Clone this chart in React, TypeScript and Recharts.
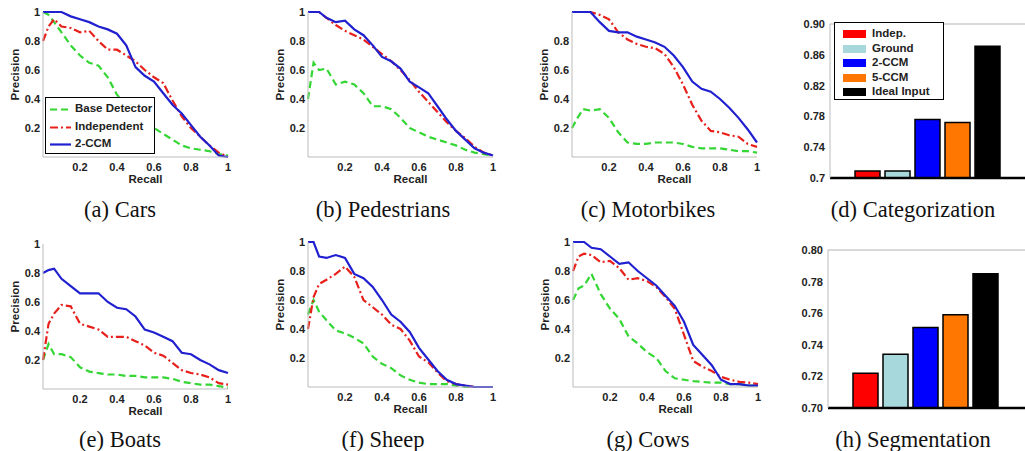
import { LineChart, Line, BarChart, Bar, Cell, XAxis, YAxis, ReferenceLine } from 'recharts';

// recall grid shared by all precision/recall panels
const recall = [0, 0.03, 0.06, 0.1, 0.15, 0.2, 0.25, 0.3, 0.35, 0.4, 0.45, 0.5, 0.55, 0.6, 0.65, 0.7, 0.75, 0.8, 0.85, 0.9, 0.95, 1];

const carsBase = [1, 0.98, 0.93, 0.86, 0.77, 0.7, 0.65, 0.63, 0.55, 0.43, 0.35, 0.3, 0.25, 0.2, 0.16, 0.12, 0.08, 0.06, 0.05, 0.04, 0.02, 0.01];
const carsIndep = [0.8, 0.9, 0.95, 0.9, 0.89, 0.86, 0.87, 0.8, 0.74, 0.74, 0.7, 0.66, 0.6, 0.55, 0.51, 0.39, 0.28, 0.2, 0.14, 0.08, 0.03, 0];
const carsCcm = [1, 1, 1, 1, 0.97, 0.95, 0.93, 0.9, 0.88, 0.85, 0.77, 0.62, 0.56, 0.52, 0.44, 0.36, 0.3, 0.22, 0.14, 0.08, 0.01, 0];

const pedBase = [0.4, 0.65, 0.6, 0.61, 0.5, 0.52, 0.5, 0.44, 0.35, 0.35, 0.33, 0.27, 0.2, 0.17, 0.14, 0.12, 0.1, 0.08, 0.05, 0.03, 0.02, 0.01];
const pedIndep = [1, 1, 1, 0.96, 0.91, 0.87, 0.84, 0.81, 0.76, 0.71, 0.66, 0.6, 0.53, 0.45, 0.38, 0.31, 0.24, 0.18, 0.13, 0.07, 0.03, 0.01];
const pedCcm = [1, 1, 1, 0.96, 0.93, 0.94, 0.88, 0.84, 0.77, 0.69, 0.66, 0.61, 0.52, 0.48, 0.44, 0.35, 0.26, 0.18, 0.12, 0.06, 0.03, 0.01];

const motoBase = [0.2, 0.27, 0.33, 0.32, 0.33, 0.27, 0.17, 0.1, 0.09, 0.09, 0.1, 0.1, 0.1, 0.09, 0.07, 0.06, 0.06, 0.06, 0.05, 0.04, 0.04, 0.03];
const motoIndep = [1, 1, 1, 1, 0.98, 0.95, 0.86, 0.81, 0.78, 0.76, 0.75, 0.71, 0.62, 0.5, 0.36, 0.25, 0.18, 0.17, 0.15, 0.14, 0.09, 0.07];
const motoCcm = [1, 1, 1, 1, 0.93, 0.87, 0.86, 0.86, 0.83, 0.81, 0.79, 0.76, 0.7, 0.62, 0.52, 0.47, 0.45, 0.4, 0.34, 0.27, 0.19, 0.1];

const boatBase = [0.2, 0.31, 0.24, 0.24, 0.22, 0.15, 0.12, 0.11, 0.1, 0.1, 0.09, 0.09, 0.08, 0.08, 0.08, 0.07, 0.05, 0.04, 0.03, 0.03, 0.02, 0.01];
const boatIndep = [0.2, 0.45, 0.52, 0.58, 0.57, 0.45, 0.43, 0.41, 0.36, 0.36, 0.36, 0.33, 0.3, 0.25, 0.23, 0.18, 0.13, 0.11, 0.1, 0.08, 0.04, 0.03];
const boatCcm = [0.8, 0.82, 0.83, 0.76, 0.71, 0.66, 0.66, 0.66, 0.6, 0.56, 0.55, 0.5, 0.41, 0.39, 0.36, 0.33, 0.25, 0.24, 0.2, 0.17, 0.13, 0.11];

const sheepBase = [0.5, 0.6, 0.52, 0.46, 0.39, 0.37, 0.34, 0.3, 0.21, 0.16, 0.13, 0.08, 0.05, 0.03, 0.02, 0.02, 0.02, 0.01, 0, 0, 0, 0];
const sheepIndep = [0.4, 0.62, 0.71, 0.74, 0.78, 0.83, 0.76, 0.6, 0.55, 0.5, 0.43, 0.4, 0.32, 0.21, 0.17, 0.1, 0.04, 0.02, 0.01, 0, 0, 0];
const sheepCcm = [1, 1, 0.9, 0.89, 0.91, 0.89, 0.78, 0.75, 0.69, 0.6, 0.5, 0.45, 0.38, 0.27, 0.19, 0.11, 0.05, 0.02, 0.01, 0, 0, 0];

const cowBase = [0.6, 0.68, 0.7, 0.78, 0.64, 0.54, 0.47, 0.35, 0.3, 0.24, 0.2, 0.11, 0.06, 0.05, 0.04, 0.035, 0.03, 0.03, 0.02, 0.02, 0.01, 0.01];
const cowIndep = [0.8, 0.9, 0.92, 0.91, 0.86, 0.87, 0.82, 0.74, 0.75, 0.73, 0.69, 0.62, 0.54, 0.36, 0.18, 0.14, 0.11, 0.07, 0.05, 0.035, 0.03, 0.02];
const cowCcm = [1, 1, 1, 0.96, 0.95, 0.9, 0.85, 0.86, 0.8, 0.75, 0.7, 0.63, 0.56, 0.45, 0.29, 0.22, 0.15, 0.05, 0.02, 0.02, 0.01, 0.01];

const seriesKeys = ['base', 'indep', 'ccm'];
const seriesNames = ['Base Detector', 'Independent', '2-CCM'];
const seriesColors = ['#33d633', '#e8201c', '#2020d0'];
const seriesDash = ['7 4', '8 3 2 3', undefined];

const prTicks = [0.2, 0.4, 0.6, 0.8, 1];
const prTicksNoTop = [0.2, 0.4, 0.6, 0.8];

// bar panels
const methods = ['Indep.', 'Ground', '2-CCM', '5-CCM', 'Ideal Input'];
const methodColors = ['#ff0000', '#a6d8dc', '#0000ff', '#ff7700', '#000000'];
const categorization = [0.709, 0.709, 0.776, 0.772, 0.871];
const segmentation = [0.722, 0.734, 0.751, 0.759, 0.785];
const catTicks = [0.7, 0.74, 0.78, 0.82, 0.86, 0.9];
const catTickLabels = ['0.7', '0.74', '0.78', '0.82', '0.86', '0.90'];
const segTicks = [0.7, 0.72, 0.74, 0.76, 0.78, 0.8];
const segTickLabels = ['0.70', '0.72', '0.74', '0.76', '0.78', '0.80'];

const captions = ['(a) Cars', '(b) Pedestrians', '(c) Motorbikes', '(d) Categorization', '(e) Boats', '(f) Sheep', '(g) Cows', '(h) Segmentation'];

const sans = '"Liberation Sans", Arial, sans-serif';
const tickStyle = { fontFamily: sans, fontSize: 11, fontWeight: 700, fill: '#222' };
const labelStyle = { fontFamily: sans, fontSize: 11.5, fontWeight: 700, fill: '#222' };

function toRows(base: number[], indep: number[], ccm: number[]) {
  return recall.map((r, i) => ({ r, base: base[i], indep: indep[i], ccm: ccm[i] }));
}

const PrecisionLabel = (props: any) => {
  const vb = props.viewBox || { x: 0, y: 12, width: 43, height: 145 };
  const x = vb.x + vb.width - 28;
  const y = vb.y + vb.height / 2 - 10;
  return (
    <text x={x} y={y} transform={`rotate(-90 ${x} ${y})`} textAnchor="middle" dominantBaseline="central" style={labelStyle}>
      Precision
    </text>
  );
};

const RecallLabel = (props: any) => {
  const vb = props.viewBox || { x: 43, y: 157, width: 185, height: 38 };
  return (
    <text x={vb.x + vb.width / 2 + 10} y={vb.y + 22} textAnchor="middle" dominantBaseline="central" style={labelStyle}>
      Recall
    </text>
  );
};

function PRLegend() {
  return (
    <div
      style={{
        position: 'absolute', left: 45, top: 97, width: 108, height: 55,
        border: '1.5px solid #000', background: '#fff',
      }}
    >
      {seriesNames.map((name, i) => (
        <div key={name} style={{ position: 'absolute', left: 0, top: 3 + i * 17.5, height: 17, width: 108 }}>
          <svg width={24} height={17} style={{ position: 'absolute', left: 3, top: 0 }}>
            <line x1={1} y1={8.5} x2={22} y2={8.5} stroke={seriesColors[i]} strokeWidth={2.2} strokeDasharray={seriesDash[i]} />
          </svg>
          <span style={{ position: 'absolute', left: 29, top: 1, font: `700 11.5px ${sans}`, color: '#222', whiteSpace: 'nowrap' }}>{name}</span>
        </div>
      ))}
    </div>
  );
}

function PRChart({ left, top, rows, yTicks, legend }: { left: number; top: number; rows: any[]; yTicks: number[]; legend?: boolean }) {
  return (
    <div style={{ position: 'absolute', left, top, width: 240, height: 195 }}>
      <LineChart width={240} height={195} data={rows} margin={{ top: 12, right: 12, bottom: 0, left: 0 }}>
        <XAxis
          dataKey="r" type="number" domain={[0, 1]} ticks={prTicks} height={38} interval={0}
          stroke="#bbb" tick={tickStyle} tickLine={false} tickSize={0} tickMargin={6}
          tickFormatter={(v: number) => String(v)} label={{ content: RecallLabel }}
        />
        <YAxis
          type="number" domain={[0, 1]} ticks={yTicks} width={43} interval={0}
          stroke="#bbb" tick={tickStyle} tickLine={false} tickSize={0} tickMargin={3}
          tickFormatter={(v: number) => String(v)} label={{ content: PrecisionLabel }}
        />
        {seriesKeys.map((k, i) => (
          <Line
            key={k} type="linear" dataKey={k} name={seriesNames[i]} stroke={seriesColors[i]}
            strokeWidth={2.2} strokeDasharray={seriesDash[i]} dot={false} isAnimationActive={false}
          />
        ))}
      </LineChart>
      {legend && <PRLegend />}
    </div>
  );
}

function BarLegend() {
  return (
    <div
      style={{
        position: 'absolute', left: 834, top: 22, width: 108, height: 76,
        border: '1.5px solid #000', background: '#fff',
      }}
    >
      {methods.map((m, i) => (
        <div key={m} style={{ position: 'absolute', left: 0, top: 4 + i * 14.5, height: 14, width: 108 }}>
          <div style={{ position: 'absolute', left: 8, top: 3, width: 23, height: 8, background: methodColors[i] }} />
          <span style={{ position: 'absolute', left: 37, top: 0, font: `700 11.5px ${sans}`, color: '#222', whiteSpace: 'nowrap' }}>{m}</span>
        </div>
      ))}
    </div>
  );
}

// bottom axis strip below the baseline, so the lowest tick label has room
const BASE_STRIP = 10;

function ScoreChart({ left, top, height, values, ticks, tickLabels }: { left: number; top: number; height: number; values: number[]; ticks: number[]; tickLabels: string[] }) {
  const rows = methods.map((m, i) => ({ method: m, value: values[i] }));
  const lo = ticks[0];
  const hi = ticks[ticks.length - 1];
  const labelFor = (v: number) => {
    let best = 0;
    ticks.forEach((t, i) => {
      if (Math.abs(t - v) < Math.abs(ticks[best] - v)) best = i;
    });
    return tickLabels[best];
  };
  return (
    <div style={{ position: 'absolute', left, top, width: 258, height }}>
      <BarChart width={258} height={height} data={rows} margin={{ top: 12, right: 0, bottom: 0, left: 0 }}>
        <XAxis
          dataKey="method" tick={false} tickLine={false} height={BASE_STRIP}
          axisLine={{ stroke: '#000', strokeWidth: 2.5 }} padding={{ left: 22, right: 43 }}
        />
        <YAxis
          type="number" domain={[lo, hi]} ticks={ticks} width={43} allowDataOverflow interval={0}
          stroke="#bbb" tick={tickStyle} tickLine={false} tickSize={0} tickMargin={5}
          tickFormatter={labelFor}
        />
        <ReferenceLine y={hi} stroke="#ccc" strokeWidth={1.5} />
        <Bar dataKey="value" barSize={25} stroke="#000" strokeWidth={1.5} isAnimationActive={false}>
          {rows.map((r, i) => (
            <Cell key={r.method} fill={methodColors[i]} />
          ))}
        </Bar>
      </BarChart>
    </div>
  );
}

function Caption({ text, x, y }: { text: string; x: number; y: number }) {
  return (
    <div
      style={{
        position: 'absolute', left: x - 120, top: y - 14, width: 240, textAlign: 'center',
        font: '22.5px "Liberation Serif", "Times New Roman", serif', color: '#111', lineHeight: '28px',
      }}
    >
      {text}
    </div>
  );
}

export default function App() {
  const captionX = [120, 383, 648, 913];
  return (
    <div style={{ position: 'absolute', left: 0, top: 0, width: 1025, height: 451, background: '#fff', overflow: 'hidden' }}>
      <PRChart left={0} top={0} rows={toRows(carsBase, carsIndep, carsCcm)} yTicks={prTicks} legend />
      <PRChart left={265} top={0} rows={toRows(pedBase, pedIndep, pedCcm)} yTicks={prTicks} />
      <PRChart left={529} top={0} rows={toRows(motoBase, motoIndep, motoCcm)} yTicks={prTicksNoTop} />
      <ScoreChart left={787} top={12} height={166 + BASE_STRIP} values={categorization} ticks={catTicks} tickLabels={catTickLabels} />
      <BarLegend />

      <PRChart left={0} top={232} rows={toRows(boatBase, boatIndep, boatCcm)} yTicks={prTicks} />
      <PRChart left={265} top={230} rows={toRows(sheepBase, sheepIndep, sheepCcm)} yTicks={prTicks} />
      <PRChart left={530} top={230} rows={toRows(cowBase, cowIndep, cowCcm)} yTicks={prTicks} />
      <ScoreChart left={785} top={238} height={170 + BASE_STRIP} values={segmentation} ticks={segTicks} tickLabels={segTickLabels} />

      {captions.map((c, i) => (
        <Caption key={c} text={c} x={captionX[i % 4]} y={i < 4 ? 210 : 440} />
      ))}
    </div>
  );
}
